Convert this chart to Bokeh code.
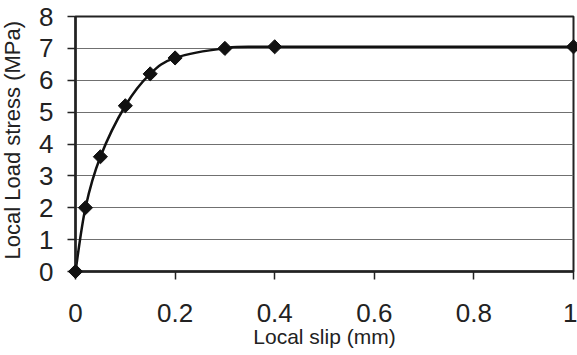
import math
from bokeh.plotting import figure
from bokeh.models import Range1d, FixedTicker, ColumnDataSource, Label
from bokeh.embed import file_html
from bokeh.resources import INLINE

# Data
slip = [0.0, 0.02, 0.05, 0.10, 0.15, 0.20, 0.30, 0.40, 1.00]
stress = [0.0, 2.0, 3.6, 5.2, 6.2, 6.7, 7.0, 7.05, 7.05]
x_ticks = [0, 0.2, 0.4, 0.6, 0.8, 1.0]
x_tick_labels = ["0", "0.2", "0.4", "0.6", "0.8", "1"]
y_ticks = [0, 1, 2, 3, 4, 5, 6, 7, 8]
x_title = "Local slip (mm)"
y_title = "Local Load stress (MPa)"

FONT = "Liberation Sans"

p = figure(width=577, height=355, output_backend="svg", toolbar_location=None,
           x_range=Range1d(0, 1), y_range=Range1d(0, 8),
           min_border_left=75, min_border_right=4, min_border_top=16, min_border_bottom=84)
p.background_fill_color = "white"
p.border_fill_color = "white"
p.outline_line_color = "#222222"
p.outline_line_width = 2

# Smoothed line (Catmull-Rom style Bezier segments, as a spreadsheet "smoothed line")
n = len(slip)
x0, y0, x1, y1, cx0, cy0, cx1, cy1 = [], [], [], [], [], [], [], []
for i in range(n - 1):
    pm = max(i - 1, 0)
    pp = min(i + 2, n - 1)
    x0.append(slip[i]); y0.append(stress[i])
    x1.append(slip[i + 1]); y1.append(stress[i + 1])
    cx0.append(slip[i] + (slip[i + 1] - slip[pm]) / 6)
    cy0.append(stress[i] + (stress[i + 1] - stress[pm]) / 6)
    cx1.append(slip[i + 1] - (slip[pp] - slip[i]) / 6)
    cy1.append(stress[i + 1] - (stress[pp] - stress[i]) / 6)
seg = ColumnDataSource(dict(x0=x0, y0=y0, x1=x1, y1=y1, cx0=cx0, cy0=cy0, cx1=cx1, cy1=cy1))
p.bezier(x0="x0", y0="y0", x1="x1", y1="y1", cx0="cx0", cy0="cy0", cx1="cx1", cy1="cy1",
         source=seg, line_color="#111111", line_width=2.5)

pts = p.scatter(slip, stress, marker="square", angle=math.pi / 4, size=10,
                fill_color="#111111", line_color="#111111")
pts.level = "overlay"

# Axes
for ax in (p.xaxis[0], p.yaxis[0]):
    ax.axis_line_color = "#222222"
    ax.axis_line_width = 2.5
    ax.major_tick_line_color = "#222222"
    ax.major_tick_line_width = 1.5
    ax.major_tick_out = 8
    ax.major_tick_in = 0
    ax.minor_tick_line_color = None
    ax.major_label_text_font = FONT
    ax.major_label_text_font_size = "26px"
    ax.major_label_text_color = "#222222"
    ax.axis_label_text_font = FONT
    ax.axis_label_text_font_style = "normal"
    ax.axis_label_text_color = "#222222"

p.xaxis.ticker = FixedTicker(ticks=x_ticks)
p.xaxis.major_label_overrides = {t: l for t, l in zip(x_ticks, x_tick_labels)}
p.xaxis.axis_label = x_title
p.xaxis.axis_label_text_font_size = "21px"
p.xaxis.major_label_standoff = 24
p.xaxis.axis_label_standoff = 0

p.yaxis.ticker = FixedTicker(ticks=y_ticks)
p.yaxis.major_label_standoff = 14

# Vertical axis title placed as a label in the left side panel
ylab = Label(x=1, x_units="screen", y=4.12, y_units="data", text=y_title,
             angle=math.pi / 2, text_align="center", text_baseline="middle",
             text_font=FONT, text_font_size="22px", text_color="#222222")
p.add_layout(ylab, "left")

p.xgrid.grid_line_color = None
p.ygrid.ticker = FixedTicker(ticks=y_ticks)
p.ygrid.grid_line_color = "#707070"
p.ygrid.grid_line_width = 1

open("out.html", "w").write(file_html(p, INLINE))
